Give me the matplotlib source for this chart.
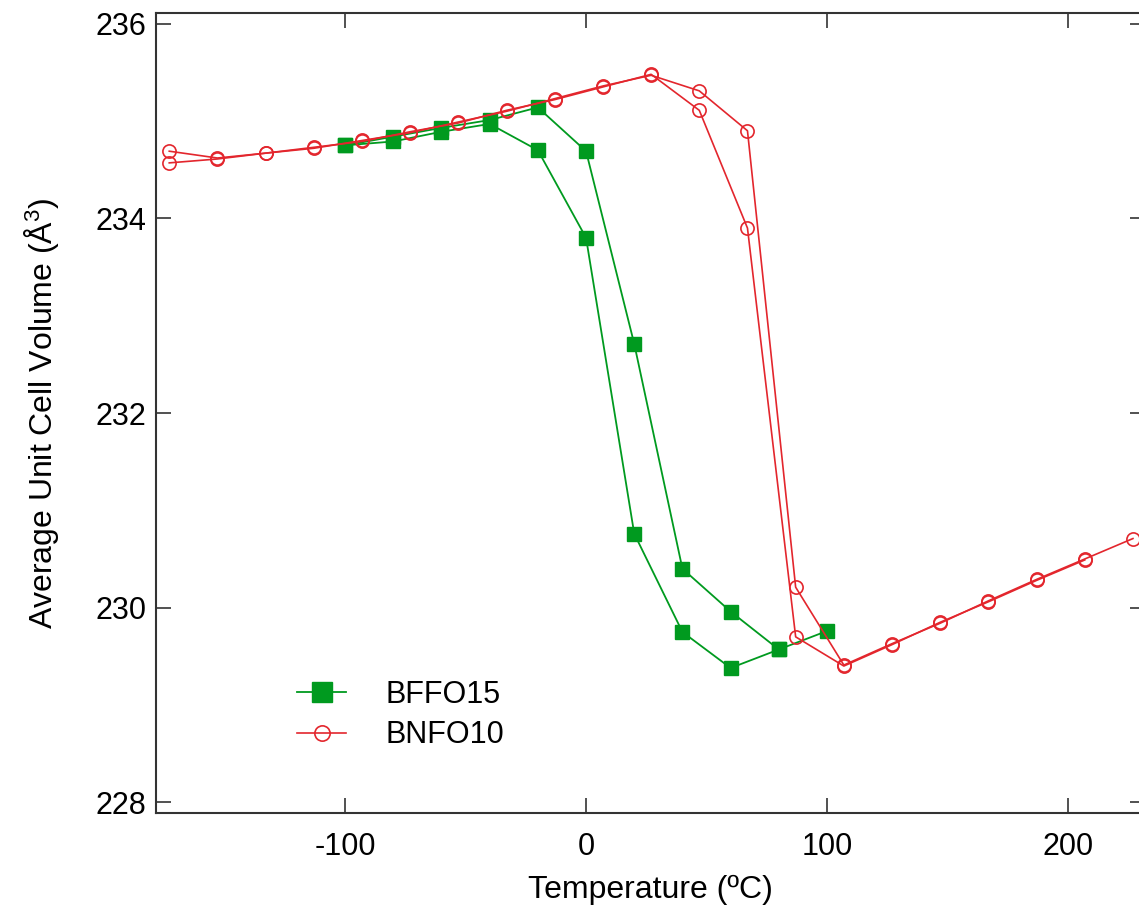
import matplotlib
matplotlib.use("Agg")
import matplotlib.pyplot as plt

# BFFO15: temperatura en ºC, dos ramas (calentamiento / enfriamiento)
t_bffo = [-100, -80, -60, -40, -20, 0, 20, 40, 60, 80, 100]
v_bffo_a = [234.75, 234.84, 234.93, 235.01, 235.14, 234.69, 232.71, 230.40, 229.96, 229.57, 229.76]
v_bffo_b = [234.75, 234.79, 234.89, 234.97, 234.70, 233.80, 230.76, 229.75, 229.38, 229.57]

# BNFO10: de 100 K a 500 K cada 20 K
t_bnfo = [-173, -153, -133, -113, -93, -73, -53, -33, -13, 7, 27,
          47, 67, 87, 107, 127, 147, 167, 187, 207, 227]
v_bnfo_a = [234.69, 234.62, 234.67, 234.72, 234.80, 234.88, 234.99, 235.10, 235.23, 235.36, 235.47,
            235.31, 234.90, 230.21, 229.41, 229.63, 229.84, 230.07, 230.29, 230.50, 230.71]
v_bnfo_b = [234.57, 234.61, 234.67, 234.73, 234.79, 234.89, 234.98, 235.11, 235.22, 235.35, 235.48,
            235.11, 233.90, 229.70, 229.40, 229.62, 229.85, 230.06, 230.28, 230.49]

x_ticks = [-100, 0, 100, 200]
y_ticks = [228, 230, 232, 234, 236]

plt.rcParams['font.family'] = ['Liberation Sans', 'DejaVu Sans']
plt.rcParams['axes.unicode_minus'] = False
plt.rcParams['mathtext.default'] = 'regular'

verde = '#009a1f'
rojo = '#e3262d'

fig = plt.figure(figsize=(11.39, 9.05), dpi=100)
ax = fig.add_axes([156 / 1139, 92 / 905, 989 / 1139, 800 / 905])

ax.plot(t_bffo, v_bffo_a, color=verde, lw=1.3, marker='s', ms=10, mec=verde, mfc=verde, label='BFFO15')
ax.plot(t_bffo[:len(v_bffo_b)], v_bffo_b, color=verde, lw=1.3, marker='s', ms=10, mec=verde, mfc=verde)

ax.plot(t_bnfo, v_bnfo_a, color=rojo, lw=1.2, marker='o', ms=9.5, mec=rojo, mfc='none', mew=1.2, label='BNFO10')
ax.plot(t_bnfo[:len(v_bnfo_b)], v_bnfo_b, color=rojo, lw=1.2, marker='o', ms=9.5, mec=rojo, mfc='none', mew=1.2)

ax.set_xlim(-178.5, 232)
ax.set_ylim(227.89, 236.11)
ax.set_xticks(x_ticks)
ax.set_yticks(y_ticks)
ax.tick_params(direction='in', length=11, width=1.2, labelsize=22, top=True, right=True, color='#333333')
ax.tick_params(axis='x', pad=14)
ax.tick_params(axis='y', pad=7)
for s in ax.spines.values():
    s.set_linewidth(1.5)
    s.set_color('#333333')

ax.set_xlabel('Temperature (ºC)', fontsize=23, labelpad=9)
ax.set_ylabel('Average Unit Cell Volume (Å$^{3}$)', fontsize=23, labelpad=25)

leg = ax.legend(loc='lower left', bbox_to_anchor=(0.115, 0.044), frameon=False, fontsize=22,
                handlelength=1.6, handletextpad=1.3, labelspacing=0.34)
leg.legend_handles[0].set_markersize(14)
leg.legend_handles[1].set_markersize(11)

plt.savefig('out.png', dpi=100)
plt.close()
